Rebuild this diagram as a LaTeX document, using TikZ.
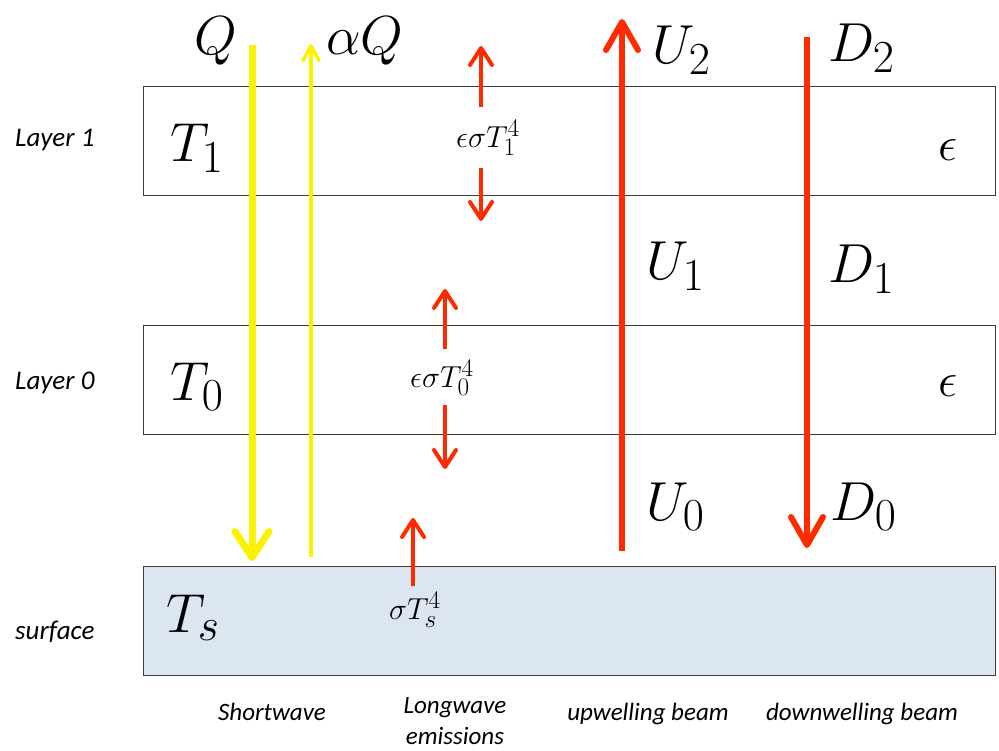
\documentclass[tikz,border=0pt]{standalone}
\usepackage{graphicx}
\usepackage{fontspec}
\newfontfamily\labelfont{Carlito}
\usetikzlibrary{arrows.meta}
\definecolor{beamred}{RGB}{255,42,0}
\definecolor{sunyellow}{RGB}{250,242,0}
\definecolor{surfblue}{RGB}{220,230,241}
\definecolor{edgegray}{RGB}{60,60,60}
\newcommand\mathbig[1]{\scalebox{2.21}{\Huge$#1$}}
\newcommand\mathmid[1]{\scalebox{1.95}{\Huge$#1$}}
\newcommand\mathsmall[1]{\scalebox{1.22}{\Huge$#1$}}
\tikzset{
  layerbox/.style={draw=edgegray, line width=1.3pt, inner sep=0pt, minimum width=852pt, minimum height=109pt, anchor=north west},
  bigmath/.style={inner sep=0pt, anchor=base west},
  smallmath/.style={inner sep=0pt},
  sidelabel/.style={inner sep=0pt, anchor=west, font=\labelfont\itshape\fontsize{27}{30}\selectfont},
  botlabel/.style={inner sep=0pt, align=center, font=\labelfont\itshape\fontsize{25}{31}\selectfont},
  swdown/.style={draw=sunyellow, line width=7pt, -{Straight Barb[length=26pt,width=34pt,round]}},
  swup/.style={draw=sunyellow, line width=3.5pt, -{Straight Barb[length=15pt,width=16pt,round]}},
  lwarrow/.style={draw=beamred, line width=4pt, -{Straight Barb[length=17pt,width=22pt,round]}},
  beam/.style={draw=beamred, line width=6pt, -{Straight Barb[length=28pt,width=32pt,round]}}
}
\begin{document}
\begin{tikzpicture}[x=1pt, y=-1pt]
\useasboundingbox (0,0) rectangle (999,751);
% layers
\node[layerbox] (L1) at (143,86) {};
\node[layerbox] (L0) at (143,325) {};
\node[layerbox, fill=surfblue] (Ls) at (143,566) {};
% side labels
\node[sidelabel] (n1) at (15,140) {Layer 1};
\node[sidelabel] (n0) at (15,383) {Layer 0};
\node[sidelabel] (ns) at (15,632) {surface};
% temperatures
\node[bigmath] (T1) at (170,162) {\mathbig{T_1}};
\node[bigmath] (T0) at (170,400) {\mathbig{T_0}};
\node[bigmath] (Ts) at (166,632) {\mathbig{T_s}};
\node[smallmath] (e1) at (948,150) {\mathmid{\epsilon}};
\node[smallmath] (e0) at (948,386) {\mathmid{\epsilon}};
% shortwave
\coordinate (qa) at (252,45);
\coordinate (qb) at (252,561);
\coordinate (aa) at (311,557);
\coordinate (ab) at (311,44);
\draw[swdown] (qa) -- (qb);
\draw[swup] (aa) -- (ab);
\node[bigmath] (Q) at (194,55) {\mathbig{Q}};
\node[bigmath] (aQ) at (326,55) {\mathbig{\alpha Q}};
% longwave emissions
\node[smallmath] (f1) at (488,138) {\mathsmall{\epsilon\sigma T_1^4}};
\node[smallmath] (f0) at (442,378) {\mathsmall{\epsilon\sigma T_0^4}};
\node[smallmath] (fs) at (415,610) {\mathsmall{\sigma T_s^4}};
\coordinate (u1a) at (481,107);
\coordinate (u1b) at (481,46);
\coordinate (d1a) at (481,168);
\coordinate (d1b) at (481,221);
\coordinate (u0a) at (445,349);
\coordinate (u0b) at (445,289);
\coordinate (d0a) at (445,405);
\coordinate (d0b) at (445,469);
\coordinate (usa) at (413,586);
\coordinate (usb) at (413,518);
\draw[lwarrow] (u1a) -- (u1b);
\draw[lwarrow] (d1a) -- (d1b);
\draw[lwarrow] (u0a) -- (u0b);
\draw[lwarrow] (d0a) -- (d0b);
\draw[lwarrow] (usa) -- (usb);
% beams
\coordinate (ua) at (622,551);
\coordinate (ub) at (622,19);
\coordinate (da) at (807,37);
\coordinate (db) at (807,548);
\draw[beam] (ua) -- (ub);
\draw[beam] (da) -- (db);
\node[bigmath] (U2) at (652,64) {\mathbig{U_2}};
\node[bigmath] (U1) at (646,280) {\mathbig{U_1}};
\node[bigmath] (U0) at (646,520) {\mathbig{U_0}};
\node[bigmath] (D2) at (828,62) {\mathbig{D_2}};
\node[bigmath] (D1) at (828,283) {\mathbig{D_1}};
\node[bigmath] (D0) at (830,520) {\mathbig{D_0}};
% bottom labels
\node[botlabel] (bsw) at (272,712) {Shortwave};
\node[botlabel] (blw) at (455,721) {Longwave\\emissions};
\node[botlabel] (bup) at (648,714) {upwelling beam};
\node[botlabel] (bdn) at (862,714) {downwelling beam};
\end{tikzpicture}
\end{document}
